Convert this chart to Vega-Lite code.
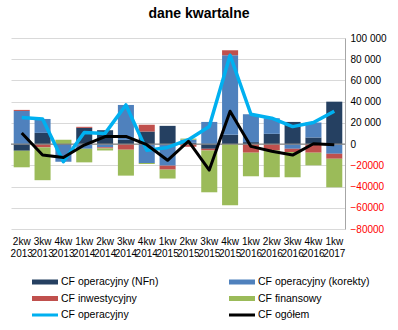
{
  "$schema": "https://vega.github.io/schema/vega-lite/v6.json",
  "autosize": {"type": "none"},
  "width": 334,
  "height": 191,
  "padding": {"left": 11, "top": 38, "right": 53, "bottom": 101},
  "background": "white",
  "title": {"text": "dane kwartalne", "fontSize": 14, "fontWeight": "bold", "font": "Liberation Sans", "color": "#000000", "anchor": "middle", "dx": 21, "offset": 12},
  "datasets": {
    "bars": [
      {"q": "2kw 2013", "series": "CF operacyjny (NFn)", "value": -6250},
      {"q": "2kw 2013", "series": "CF operacyjny (korekty)", "value": 31250},
      {"q": "2kw 2013", "series": "CF inwestycyjny", "value": 1000},
      {"q": "2kw 2013", "series": "CF finansowy", "value": -15600},
      {"q": "3kw 2013", "series": "CF operacyjny (NFn)", "value": 10600},
      {"q": "3kw 2013", "series": "CF operacyjny (korekty)", "value": 13100},
      {"q": "3kw 2013", "series": "CF inwestycyjny", "value": -3100},
      {"q": "3kw 2013", "series": "CF finansowy", "value": -30900},
      {"q": "4kw 2013", "series": "CF operacyjny (NFn)", "value": -500},
      {"q": "4kw 2013", "series": "CF operacyjny (korekty)", "value": -16100},
      {"q": "4kw 2013", "series": "CF inwestycyjny", "value": 0},
      {"q": "4kw 2013", "series": "CF finansowy", "value": 4000},
      {"q": "1kw 2014", "series": "CF operacyjny (NFn)", "value": 15300},
      {"q": "1kw 2014", "series": "CF operacyjny (korekty)", "value": -4400},
      {"q": "1kw 2014", "series": "CF inwestycyjny", "value": 1000},
      {"q": "1kw 2014", "series": "CF finansowy", "value": -12800},
      {"q": "2kw 2014", "series": "CF operacyjny (NFn)", "value": 13100},
      {"q": "2kw 2014", "series": "CF operacyjny (korekty)", "value": -3000},
      {"q": "2kw 2014", "series": "CF inwestycyjny", "value": -1000},
      {"q": "2kw 2014", "series": "CF finansowy", "value": -2000},
      {"q": "3kw 2014", "series": "CF operacyjny (NFn)", "value": 4000},
      {"q": "3kw 2014", "series": "CF operacyjny (korekty)", "value": 32900},
      {"q": "3kw 2014", "series": "CF inwestycyjny", "value": -5300},
      {"q": "3kw 2014", "series": "CF finansowy", "value": -24400},
      {"q": "4kw 2014", "series": "CF operacyjny (NFn)", "value": 11900},
      {"q": "4kw 2014", "series": "CF operacyjny (korekty)", "value": -17800},
      {"q": "4kw 2014", "series": "CF inwestycyjny", "value": 6250},
      {"q": "4kw 2014", "series": "CF finansowy", "value": -900},
      {"q": "1kw 2015", "series": "CF operacyjny (NFn)", "value": 17200},
      {"q": "1kw 2015", "series": "CF operacyjny (korekty)", "value": -20300},
      {"q": "1kw 2015", "series": "CF inwestycyjny", "value": -3750},
      {"q": "1kw 2015", "series": "CF finansowy", "value": -8400},
      {"q": "2kw 2015", "series": "CF operacyjny (NFn)", "value": 1200},
      {"q": "2kw 2015", "series": "CF operacyjny (korekty)", "value": 3000},
      {"q": "2kw 2015", "series": "CF inwestycyjny", "value": -2500},
      {"q": "2kw 2015", "series": "CF finansowy", "value": 1000},
      {"q": "3kw 2015", "series": "CF operacyjny (NFn)", "value": -4400},
      {"q": "3kw 2015", "series": "CF operacyjny (korekty)", "value": 20900},
      {"q": "3kw 2015", "series": "CF inwestycyjny", "value": -1600},
      {"q": "3kw 2015", "series": "CF finansowy", "value": -39400},
      {"q": "4kw 2015", "series": "CF operacyjny (NFn)", "value": 8750},
      {"q": "4kw 2015", "series": "CF operacyjny (korekty)", "value": 75000},
      {"q": "4kw 2015", "series": "CF inwestycyjny", "value": 4700},
      {"q": "4kw 2015", "series": "CF finansowy", "value": -57500},
      {"q": "1kw 2016", "series": "CF operacyjny (NFn)", "value": 1900},
      {"q": "1kw 2016", "series": "CF operacyjny (korekty)", "value": 26250},
      {"q": "1kw 2016", "series": "CF inwestycyjny", "value": -8100},
      {"q": "1kw 2016", "series": "CF finansowy", "value": -22200},
      {"q": "2kw 2016", "series": "CF operacyjny (NFn)", "value": 9700},
      {"q": "2kw 2016", "series": "CF operacyjny (korekty)", "value": 14700},
      {"q": "2kw 2016", "series": "CF inwestycyjny", "value": -5900},
      {"q": "2kw 2016", "series": "CF finansowy", "value": -25300},
      {"q": "3kw 2016", "series": "CF operacyjny (NFn)", "value": 20900},
      {"q": "3kw 2016", "series": "CF operacyjny (korekty)", "value": -4400},
      {"q": "3kw 2016", "series": "CF inwestycyjny", "value": -3100},
      {"q": "3kw 2016", "series": "CF finansowy", "value": -23750},
      {"q": "4kw 2016", "series": "CF operacyjny (NFn)", "value": 6250},
      {"q": "4kw 2016", "series": "CF operacyjny (korekty)", "value": 14100},
      {"q": "4kw 2016", "series": "CF inwestycyjny", "value": -8100},
      {"q": "4kw 2016", "series": "CF finansowy", "value": -11900},
      {"q": "1kw 2017", "series": "CF operacyjny (NFn)", "value": 40000},
      {"q": "1kw 2017", "series": "CF operacyjny (korekty)", "value": -9100},
      {"q": "1kw 2017", "series": "CF inwestycyjny", "value": -4700},
      {"q": "1kw 2017", "series": "CF finansowy", "value": -26900}
    ],
    "lines": [
      {"q": "2kw 2013", "series": "CF operacyjny", "value": 25000},
      {"q": "3kw 2013", "series": "CF operacyjny", "value": 23700},
      {"q": "4kw 2013", "series": "CF operacyjny", "value": -16600},
      {"q": "1kw 2014", "series": "CF operacyjny", "value": 10900},
      {"q": "2kw 2014", "series": "CF operacyjny", "value": 10100},
      {"q": "3kw 2014", "series": "CF operacyjny", "value": 36900},
      {"q": "4kw 2014", "series": "CF operacyjny", "value": -5900},
      {"q": "1kw 2015", "series": "CF operacyjny", "value": -3100},
      {"q": "2kw 2015", "series": "CF operacyjny", "value": 4200},
      {"q": "3kw 2015", "series": "CF operacyjny", "value": 16500},
      {"q": "4kw 2015", "series": "CF operacyjny", "value": 83750},
      {"q": "1kw 2016", "series": "CF operacyjny", "value": 28150},
      {"q": "2kw 2016", "series": "CF operacyjny", "value": 24400},
      {"q": "3kw 2016", "series": "CF operacyjny", "value": 16500},
      {"q": "4kw 2016", "series": "CF operacyjny", "value": 20350},
      {"q": "1kw 2017", "series": "CF operacyjny", "value": 30900},
      {"q": "2kw 2013", "series": "CF ogółem", "value": 10400},
      {"q": "3kw 2013", "series": "CF ogółem", "value": -10300},
      {"q": "4kw 2013", "series": "CF ogółem", "value": -12600},
      {"q": "1kw 2014", "series": "CF ogółem", "value": -900},
      {"q": "2kw 2014", "series": "CF ogółem", "value": 7100},
      {"q": "3kw 2014", "series": "CF ogółem", "value": 7200},
      {"q": "4kw 2014", "series": "CF ogółem", "value": -550},
      {"q": "1kw 2015", "series": "CF ogółem", "value": -15250},
      {"q": "2kw 2015", "series": "CF ogółem", "value": 2700},
      {"q": "3kw 2015", "series": "CF ogółem", "value": -24500},
      {"q": "4kw 2015", "series": "CF ogółem", "value": 30950},
      {"q": "1kw 2016", "series": "CF ogółem", "value": -2150},
      {"q": "2kw 2016", "series": "CF ogółem", "value": -6800},
      {"q": "3kw 2016", "series": "CF ogółem", "value": -10350},
      {"q": "4kw 2016", "series": "CF ogółem", "value": 350},
      {"q": "1kw 2017", "series": "CF ogółem", "value": -700}
    ]
  },
  "layer": [
    {
      "data": {"name": "bars"},
      "transform": [
        {"calculate": "indexof(['CF operacyjny (NFn)','CF operacyjny (korekty)','CF inwestycyjny','CF finansowy'], datum.series)", "as": "so"}
      ],
      "mark": {"type": "bar"},
      "encoding": {
        "x": {
          "field": "q", "type": "nominal",
          "scale": {"domain": ["2kw 2013","3kw 2013","4kw 2013","1kw 2014","2kw 2014","3kw 2014","4kw 2014","1kw 2015","2kw 2015","3kw 2015","4kw 2015","1kw 2016","2kw 2016","3kw 2016","4kw 2016","1kw 2017"], "paddingInner": 0.23, "paddingOuter": 0.13},
          "axis": {"title": null, "orient": "bottom", "domain": false, "ticks": false, "labelAngle": 0, "labelPadding": 7, "labelExpr": "split(datum.label, ' ')", "labelLineHeight": 12, "labelFont": "Liberation Sans", "labelFontSize": 10, "labelColor": "#000000", "labelBaseline": "top"}
        },
        "y": {
          "field": "value", "type": "quantitative", "stack": "zero",
          "scale": {"domain": [-80000, 100000], "nice": false},
          "axis": {"title": null, "orient": "right", "values": [-80000,-60000,-40000,-20000,0,20000,40000,60000,80000,100000], "tickCount": 12, "grid": true, "gridColor": "#D9D9D9", "gridWidth": 1, "ticks": false, "domain": true, "domainColor": "#A6A6A6", "domainWidth": 1, "labelPadding": 5, "labelOverlap": false, "labelFont": "Liberation Sans", "labelFontSize": 10,
            "labelExpr": "datum.value < 0 ? format(datum.value, 'd') : replace(format(datum.value, ',d'), ',', ' ')",
            "labelColor": {"condition": {"test": "datum.value < 0", "value": "#FF0000"}, "value": "#000000"}}
        },
        "order": {"field": "so", "type": "quantitative"},
        "color": {
          "field": "series", "type": "nominal",
          "scale": {"domain": ["CF operacyjny (NFn)","CF operacyjny (korekty)","CF inwestycyjny","CF finansowy","CF operacyjny","CF ogółem"], "range": ["#254061","#4F81BD","#C0504D","#9BBB59","#00B0F0","#000000"]},
          "legend": {
            "title": null, "orient": "none", "direction": "horizontal", "legendX": 21, "legendY": 238, "columns": 2, "columnPadding": 70, "rowPadding": 4.5,
            "symbolType": "M-1,-0.2L1,-0.2L1,0.2L-1,0.2Z", "symbolSize": 676, "symbolStrokeWidth": 0,
            "labelFont": "Liberation Sans", "labelFontSize": 10.5, "labelColor": "#000000", "labelOffset": 3, "clipHeight": 12,
            "encode": {"symbols": {"update": {
              "fill": {"scale": "color", "field": "value"},
              "stroke": {"value": "transparent"},
              "shape": {"signal": "datum.value == 'CF operacyjny' || datum.value == 'CF ogółem' ? 'M-1,-0.12L1,-0.12L1,0.12L-1,0.12Z' : 'M-1,-0.2L1,-0.2L1,0.2L-1,0.2Z'"}
            }}}
          }
        }
      }
    },
    {
      "data": {"values": [{"z": 0}]},
      "mark": {"type": "rule", "color": "#868686", "strokeWidth": 1.3},
      "encoding": {"y": {"field": "z", "type": "quantitative"}}
    },
    {
      "data": {"name": "lines"},
      "mark": {"type": "line", "strokeJoin": "round"},
      "encoding": {
        "x": {"field": "q", "type": "nominal"},
        "y": {"field": "value", "type": "quantitative"},
        "color": {"field": "series", "type": "nominal"},
        "strokeWidth": {"condition": {"test": "datum.series == 'CF operacyjny'", "value": 3.5}, "value": 3}
      }
    }
  ],
  "config": {"view": {"stroke": null}}
}
